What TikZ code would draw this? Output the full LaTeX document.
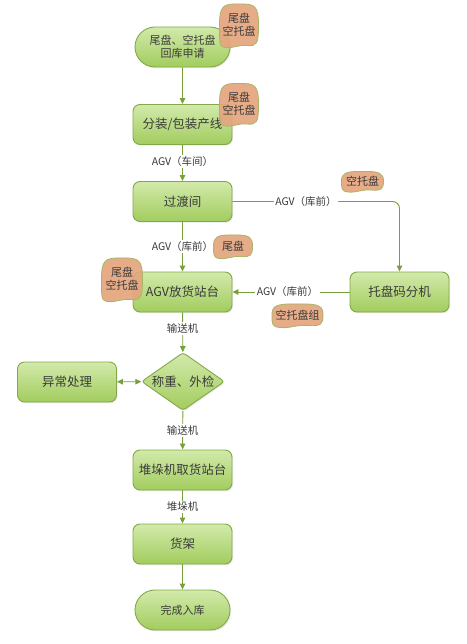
\documentclass[tikz,border=0pt]{standalone}
\usepackage{fontspec}
\setmainfont{Noto Sans CJK SC}
\usetikzlibrary{arrows.meta,shapes.geometric,shapes.misc,shadows,calc}
\definecolor{bdr}{HTML}{82A947}
\definecolor{boxtop}{HTML}{D2EAAB}
\definecolor{boxbot}{HTML}{A2CC5E}
\definecolor{tagfill}{HTML}{E4A57E}
\definecolor{tagbdr}{HTML}{A8B566}
\definecolor{arrc}{HTML}{77A03A}
\definecolor{txt}{HTML}{3A3A3A}
\newcommand\tagblob[6]{%
  \begin{scope}[shift={(#2,#3)}]
    \draw[tagshape] (0,-#5) .. controls (#4-3,-#5-0.5) and (#4+0.5,-#5+2) .. (#4+0.5,0)
      .. controls (#4+0.5,#5-2) and (#4-1,#5+0.5) .. (0.4*#4,#5-0.5)
      .. controls (0,#5-1.5) and (-0.3*#4,#5+2.5) .. (-0.7*#4,#5+1.5)
      .. controls (-#4-1,#5+1) and (-#4-0.5,#5-3) .. (-#4-0.5,0)
      .. controls (-#4-0.5,-#5+2) and (-#4+3,-#5-0.5) .. (0,-#5) -- cycle;
    \node[tagtext] (#1) at (0,0) {#6};
  \end{scope}}
\begin{document}
\begin{tikzpicture}[x=1pt,y=-1pt,
  box/.style={rectangle, rounded corners=7pt, draw=bdr, line width=0.9pt,
    top color=boxtop, bottom color=boxbot, minimum width=99pt, minimum height=40pt,
    inner sep=2pt, text=txt, font=\fontsize{12.5}{15}\selectfont,
    drop shadow={shadow xshift=1pt, shadow yshift=-1.2pt, opacity=0.18}},
  term/.style={box, rounded rectangle, sharp corners, font=\fontsize{11}{13}\selectfont, align=center},
  chkbox/.style={diamond, draw=bdr, line width=0.9pt, rounded corners=3pt,
    top color=boxtop, bottom color=boxbot, minimum width=83pt, minimum height=58pt, inner sep=0pt,
    drop shadow={shadow xshift=1pt, shadow yshift=-1.2pt, opacity=0.18}},
  arr/.style={draw=arrc, line width=0.9pt, -{Triangle[length=6pt,width=5.5pt]}},
  arrb/.style={draw=arrc, line width=0.9pt, {Triangle[length=6pt,width=5.5pt]}-{Triangle[length=6pt,width=5.5pt]}},
  lbl/.style={fill=white, inner sep=1.5pt, text=txt, font=\fontsize{10.5}{12}\selectfont},
  tagshape/.style={draw=tagbdr, line width=0.8pt, fill=tagfill, fill opacity=0.92},
  tagtext/.style={text=txt, align=center, inner sep=0pt, font=\fontsize{11}{13}\selectfont}
]
\useasboundingbox (0,0) rectangle (466,644);

\node[term, minimum height=40pt] (start) at (182.5,47) {尾盘、空托盘\\回库申请};
\node[box] (pack) at (182.5,124.5) {分装/包装产线};
\node[box] (trans) at (182.5,201.5) {过渡间};
\node[box] (agv) at (182.5,292) {AGV放货站台};
\node[box] (pal) at (399.5,292) {托盘码分机};
\node[chkbox, label={[text=txt, font=\fontsize{12.5}{15}\selectfont]center:称重、外检}] (chk) at (183,381.5) {};
\node[box] (exc) at (67,382) {异常处理};
\node[box] (stk) at (182.5,470) {堆垛机取货站台};
\node[box] (shelf) at (182.5,544) {货架};
\node[term] (done) at (182.5,610) {完成入库};

\draw[arr] (start) -- (pack);
\draw[arr] (pack) -- node[lbl, pos=0.47]{AGV（车间）} (trans);
\draw[arr, rounded corners=7pt] (trans.east) -- node[lbl, pos=0.44]{AGV（库前）} (trans.east -| pal.north) -- (pal.north);
\draw[arr] (trans) -- node[lbl, pos=0.5]{AGV（库前）} (agv);
\draw[arr] (pal) -- node[lbl, pos=0.53]{AGV（库前）} (agv);
\draw[arr] (agv) -- node[lbl, pos=0.4]{输送机} (chk);
\draw[arrb] (exc) -- (chk);
\draw[arr] (chk) -- node[lbl, pos=0.5]{输送机} (stk);
\draw[arr] (stk) -- node[lbl, pos=0.5]{堆垛机} (shelf);
\draw[arr] (shelf) -- (done);

\tagblob{t1}{239}{25}{19}{21}{尾盘\\空托盘}
\tagblob{t2}{239}{104}{19}{20.5}{尾盘\\空托盘}
\tagblob{t3}{362.5}{181}{20.5}{9.5}{空托盘}
\tagblob{t4}{233}{246}{19}{11}{尾盘}
\tagblob{t5}{122}{279}{20}{21}{尾盘\\空托盘}
\tagblob{t6}{297.5}{315}{25}{11}{空托盘组}
\end{tikzpicture}
\end{document}
